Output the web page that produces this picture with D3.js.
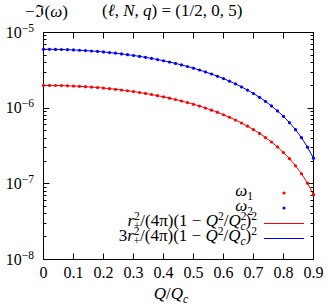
<!DOCTYPE html>
<meta charset="utf-8">
<style>
body { margin: 0; background: #fff; }
.frame { fill: none; stroke: #000; stroke-width: 1; }
.tick { stroke: #000; stroke-width: 1; }
</style>
<svg width="329" height="306" font-family="'Liberation Serif', 'DejaVu Serif', serif"></svg>
<script src="https://d3js.org/d3.v7.min.js"></script>
<script>

// Q/Qc sample points
var qValues = [0, 0.02, 0.04, 0.06, 0.08, 0.10, 0.12, 0.14, 0.16, 0.18,
               0.20, 0.22, 0.24, 0.26, 0.28, 0.30, 0.32, 0.34, 0.36, 0.38,
               0.40, 0.42, 0.44, 0.46, 0.48, 0.50, 0.52, 0.54, 0.56, 0.58,
               0.60, 0.62, 0.64, 0.66, 0.68, 0.70, 0.72, 0.74, 0.76, 0.78,
               0.80, 0.82, 0.84, 0.86, 0.88, 0.90];

// -Im(omega_1), in units of 1e-6
var omega1 = [2.000, 1.998, 1.994, 1.986, 1.974, 1.960, 1.943, 1.922, 1.899, 1.873,
              1.843, 1.811, 1.776, 1.739, 1.699, 1.656, 1.611, 1.564, 1.515, 1.464,
              1.411, 1.357, 1.301, 1.243, 1.185, 1.125, 1.065, 1.004, 0.942, 0.881,
              0.819, 0.758, 0.697, 0.637, 0.578, 0.520, 0.464, 0.409, 0.357, 0.307,
              0.259, 0.215, 0.173, 0.136, 0.102, 0.072];

// -Im(omega_2), in units of 1e-6
var omega2 = [6.000, 5.995, 5.981, 5.957, 5.923, 5.881, 5.828, 5.767, 5.697, 5.618,
              5.530, 5.433, 5.329, 5.216, 5.096, 4.969, 4.834, 4.693, 4.546, 4.393,
              4.234, 4.070, 3.902, 3.730, 3.554, 3.375, 3.194, 3.011, 2.827, 2.642,
              2.458, 2.274, 2.092, 1.911, 1.734, 1.561, 1.391, 1.228, 1.070, 0.920,
              0.778, 0.644, 0.520, 0.407, 0.305, 0.217];

var xTicks = [0, 0.1, 0.2, 0.3, 0.4, 0.5, 0.6, 0.7, 0.8, 0.9];
var xTickLabels = ["0", "0.1", "0.2", "0.3", "0.4", "0.5", "0.6", "0.7", "0.8", "0.9"];
var yDecades = [1e-8, 1e-7, 1e-6, 1e-5];
var yExponents = ["\u22128", "\u22127", "\u22126", "\u22125"];

var svg = d3.select("svg");

var x = d3.scaleLinear().domain([0, 0.9]).range([43.5, 313.5]),
    y = d3.scaleLog().domain([1e-8, 1e-5]).range([259.5, 32.5]);

// helper for sub/superscripts: style flags i = italic, ^ = sup, _ = sub, < = stack under previous
function rich(text, parts) {
  var off = 0;
  parts.forEach(function(p) {
    var s = p[1] || "";
    var target = s.indexOf("^") >= 0 ? -6 : (s.indexOf("_") >= 0 ? 4 : 0);
    var ts = text.append("tspan").text(p[0]).attr("dy", target - off);
    off = target;
    if (s.indexOf("i") >= 0) ts.attr("font-style", "italic");
    if (target !== 0) ts.attr("font-size", 11.5);
    if (s.indexOf("<") >= 0) ts.attr("dx", -6);
  });
}

// minor log ticks
var minor = [];
yDecades.slice(0, 3).forEach(function(d) {
  for (var k = 2; k <= 9; k++) minor.push(d * k);
});

var ticks = svg.append("g");
ticks.selectAll(".ymin").data(minor).enter().append("path")
    .attr("class", "tick")
    .attr("d", function(d) {
      var yy = Math.round(y(d) - 0.5) + 0.5;
      return "M43.5," + yy + "h3M313.5," + yy + "h-3";
    });
ticks.selectAll(".ymaj").data(yDecades).enter().append("path")
    .attr("class", "tick")
    .attr("d", function(d) {
      var yy = Math.round(y(d) - 0.5) + 0.5;
      return "M43.5," + yy + "h6M313.5," + yy + "h-6";
    });
ticks.selectAll(".xmaj").data(xTicks).enter().append("path")
    .attr("class", "tick")
    .attr("d", function(d) {
      var xx = Math.round(x(d) - 0.5) + 0.5;
      return "M" + xx + ",259.5v-6M" + xx + ",32.5v6";
    });

svg.append("rect").attr("class", "frame")
    .attr("x", 43.5).attr("y", 32.5).attr("width", 270).attr("height", 227);

// tick labels
svg.selectAll(".xl").data(xTicks).enter().append("text")
    .attr("x", function(d) { return x(d); })
    .attr("y", 278)
    .attr("text-anchor", "middle")
    .attr("font-size", 16)
    .text(function(d, i) { return xTickLabels[i]; });

svg.selectAll(".yl").data(yDecades).enter().append("text")
    .attr("x", 34)
    .attr("y", function(d) { return y(d) + 5; })
    .attr("text-anchor", "end")
    .attr("font-size", 16)
    .each(function(d, i) {
      rich(d3.select(this), [["10"], [yExponents[i], "^"]]);
    });

// axis titles and title
rich(svg.append("text").attr("x", 25).attr("y", 17).attr("font-size", 17),
     [["\u2212\u2111("], ["\u03c9", "i"], [")"]]);

rich(svg.append("text").attr("x", 102).attr("y", 16).attr("font-size", 17),
     [["("], ["\u2113", "i"], [", "], ["N", "i"], [", "], ["q", "i"], [") = (1/2, 0, 5)"]]);

rich(svg.append("text").attr("x", 171).attr("y", 299).attr("text-anchor", "middle").attr("font-size", 17),
     [["Q", "i"], ["/"], ["Q", "i"], ["c", "_i"]]);

// curves
var line = d3.line()
    .x(function(d, i) { return x(qValues[i]); })
    .y(function(d) { return y(d * 1e-6); });

svg.append("path").datum(omega1)
    .attr("fill", "none").attr("stroke", "#ff0000").attr("stroke-width", 1)
    .attr("d", line);
svg.append("path").datum(omega2)
    .attr("fill", "none").attr("stroke", "#0000ff").attr("stroke-width", 1)
    .attr("d", line);

svg.selectAll(".p1").data(omega1).enter().append("circle")
    .attr("cx", function(d, i) { return x(qValues[i]); })
    .attr("cy", function(d) { return y(d * 1e-6); })
    .attr("r", 1.6)
    .attr("fill", "#ff0000");
svg.selectAll(".p2").data(omega2).enter().append("circle")
    .attr("cx", function(d, i) { return x(qValues[i]); })
    .attr("cy", function(d) { return y(d * 1e-6); })
    .attr("r", 1.6)
    .attr("fill", "#0000ff");

// legend
var lg = svg.append("g").attr("font-size", 17).attr("text-anchor", "end");
rich(lg.append("text").attr("x", 253).attr("y", 196), [["\u03c9", "i"], ["1", "_"]]);
rich(lg.append("text").attr("x", 253).attr("y", 211), [["\u03c9", "i"], ["2", "_"]]);
rich(lg.append("text").attr("x", 257).attr("y", 226),
     [["r", "i"], ["2", "^"], ["+", "_<"], ["/(4\u03c0)(1 \u2212 "], ["Q", "i"], ["2", "^"],
      ["/"], ["Q", "i"], ["2", "^"], ["c", "_i<"], [")"], ["2", "^"]]);
rich(lg.append("text").attr("x", 257).attr("y", 241),
     [["3"], ["r", "i"], ["2", "^"], ["+", "_<"], ["/(4\u03c0)(1 \u2212 "], ["Q", "i"], ["2", "^"],
      ["/"], ["Q", "i"], ["c", "_i"], [")"], ["2", "^"]]);

lg.append("circle").attr("cx", 284).attr("cy", 193).attr("r", 1.6).attr("fill", "#ff0000");
lg.append("circle").attr("cx", 284).attr("cy", 208).attr("r", 1.6).attr("fill", "#0000ff");
lg.append("path").attr("d", "M264,223.5H304").attr("fill", "none").attr("stroke", "#ff0000").attr("stroke-width", 1);
lg.append("path").attr("d", "M264,238.5H304").attr("fill", "none").attr("stroke", "#0000ff").attr("stroke-width", 1);

</script>
